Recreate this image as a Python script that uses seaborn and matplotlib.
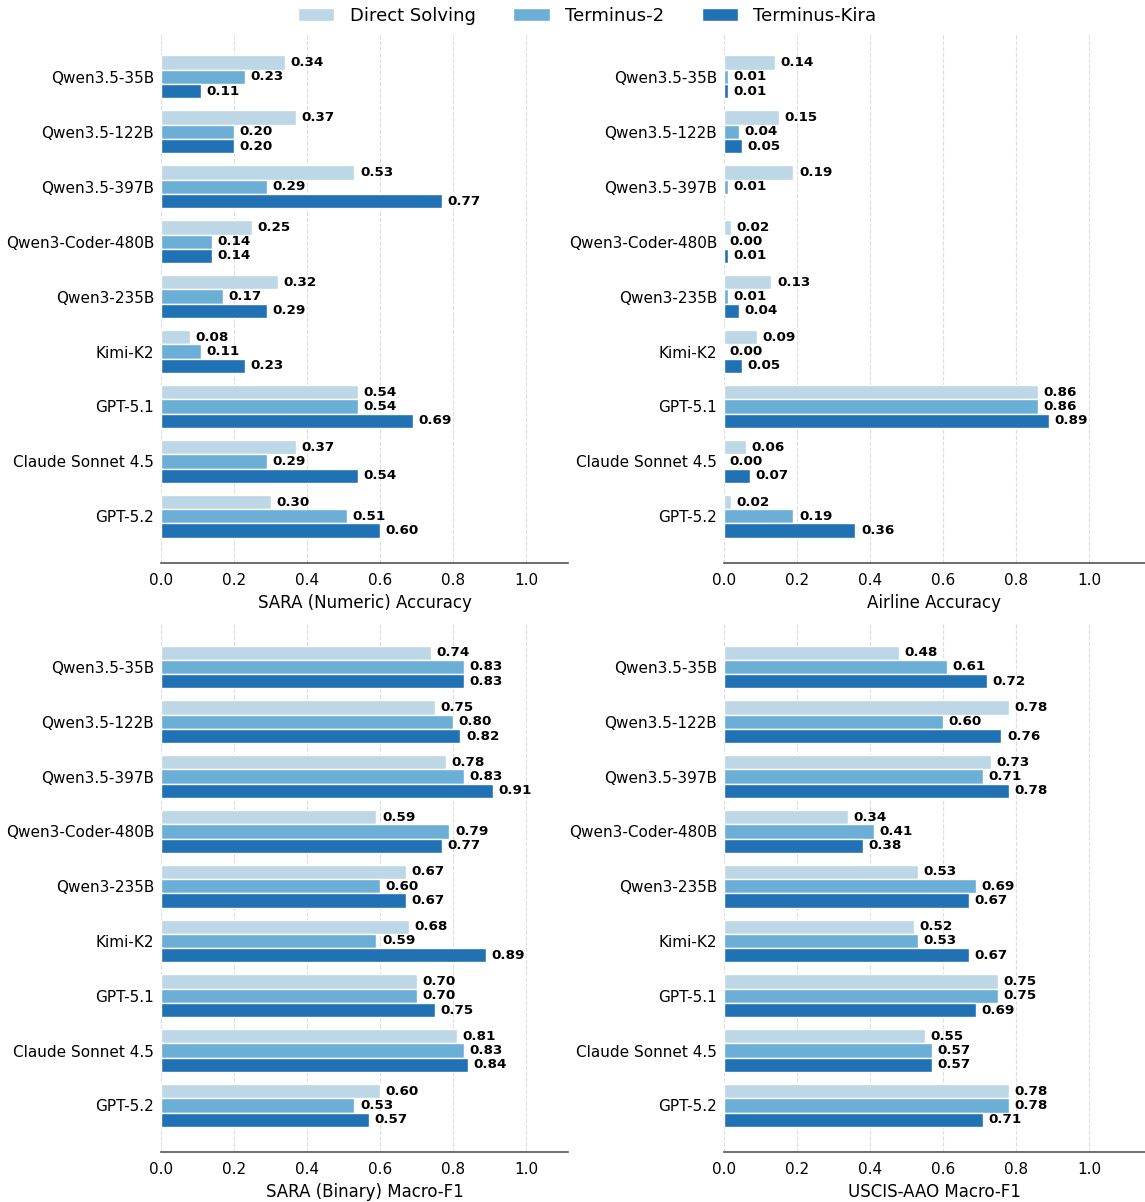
import numpy as np
import pandas as pd
import matplotlib
matplotlib.use('Agg')
import matplotlib.pyplot as plt
import seaborn as sns

# Models (top to bottom) and methods
models = ['Qwen3.5-35B', 'Qwen3.5-122B', 'Qwen3.5-397B', 'Qwen3-Coder-480B',
          'Qwen3-235B', 'Kimi-K2', 'GPT-5.1', 'Claude Sonnet 4.5', 'GPT-5.2']
methods = ['Direct Solving', 'Terminus-2', 'Terminus-Kira']
colors = ['#bdd7e7', '#6baed6', '#2171b5']

# SARA (Numeric) Accuracy
sara_num_direct = [0.34, 0.37, 0.53, 0.25, 0.32, 0.08, 0.54, 0.37, 0.30]
sara_num_t2 = [0.23, 0.20, 0.29, 0.14, 0.17, 0.11, 0.54, 0.29, 0.51]
sara_num_kira = [0.11, 0.20, 0.77, 0.14, 0.29, 0.23, 0.69, 0.54, 0.60]

# Airline Accuracy (Terminus-Kira missing for Qwen3.5-397B)
airline_direct = [0.14, 0.15, 0.19, 0.02, 0.13, 0.09, 0.86, 0.06, 0.02]
airline_t2 = [0.01, 0.04, 0.01, 0.00, 0.01, 0.00, 0.86, 0.00, 0.19]
airline_kira = [0.01, 0.05, np.nan, 0.01, 0.04, 0.05, 0.89, 0.07, 0.36]

# SARA (Binary) Macro-F1
sara_bin_direct = [0.74, 0.75, 0.78, 0.59, 0.67, 0.68, 0.70, 0.81, 0.60]
sara_bin_t2 = [0.83, 0.80, 0.83, 0.79, 0.60, 0.59, 0.70, 0.83, 0.53]
sara_bin_kira = [0.83, 0.82, 0.91, 0.77, 0.67, 0.89, 0.75, 0.84, 0.57]

# USCIS-AAO Macro-F1
uscis_direct = [0.48, 0.78, 0.73, 0.34, 0.53, 0.52, 0.75, 0.55, 0.78]
uscis_t2 = [0.61, 0.60, 0.71, 0.41, 0.69, 0.53, 0.75, 0.57, 0.78]
uscis_kira = [0.72, 0.76, 0.78, 0.38, 0.67, 0.67, 0.69, 0.57, 0.71]

panels = [
    ('SARA (Numeric) Accuracy', [sara_num_direct, sara_num_t2, sara_num_kira]),
    ('Airline Accuracy', [airline_direct, airline_t2, airline_kira]),
    ('SARA (Binary) Macro-F1', [sara_bin_direct, sara_bin_t2, sara_bin_kira]),
    ('USCIS-AAO Macro-F1', [uscis_direct, uscis_t2, uscis_kira]),
]

sns.set_style('white', rc={'text.color': 'black', 'axes.labelcolor': 'black',
                           'xtick.color': 'black', 'ytick.color': 'black'})
plt.rcParams['font.family'] = ['DejaVu Sans']

fig = plt.figure(figsize=(11.45, 12.02), dpi=100)

# axes rectangles [left, bottom, width, height] in figure fractions
rects = [
    [0.1406, 0.5316, 0.3555, 0.441],
    [0.6323, 0.5316, 0.3677, 0.441],
    [0.1406, 0.0416, 0.3555, 0.440],
    [0.6323, 0.0416, 0.3677, 0.440],
]
xmaxes = [1.115, 1.153, 1.115, 1.153]

for (title, series), rect, xmax in zip(panels, rects, xmaxes):
    ax = fig.add_axes(rect)
    rows = []
    for method, vals in zip(methods, series):
        for m, v in zip(models, vals):
            rows.append({'model': m, 'method': method, 'value': v})
    df = pd.DataFrame(rows)
    df['model'] = pd.Categorical(df['model'], categories=models, ordered=True)
    df['method'] = pd.Categorical(df['method'], categories=methods, ordered=True)

    sns.barplot(data=df, y='model', x='value', hue='method', orient='h',
                palette=colors, hue_order=methods, order=models, saturation=1,
                width=0.78, edgecolor='white', linewidth=1,
                errorbar=None, legend=False, ax=ax, zorder=3)

    for cont in ax.containers:
        labels = [f'{w:.2f}' if np.isfinite(w) else '' for w in cont.datavalues]
        ax.bar_label(cont, labels=labels, padding=4, fontsize=9.7,
                     fontweight='bold', color='black')

    ax.set_xlim(0, xmax)
    ax.set_ylim(8.85, -0.8)
    ax.set_xticks([0.0, 0.2, 0.4, 0.6, 0.8, 1.0])
    ax.set_xticklabels(['0.0', '0.2', '0.4', '0.6', '0.8', '1.0'])
    ax.set_xlabel(title, fontsize=12)
    ax.set_ylabel('')
    ax.tick_params(axis='y', length=0, pad=5, labelsize=11)
    ax.tick_params(axis='x', length=4, width=1, labelsize=11, color='#333333')
    ax.grid(axis='x', linestyle='--', color='#dddddd', linewidth=0.8, zorder=0)
    ax.set_axisbelow(True)
    for side in ['left', 'top', 'right']:
        ax.spines[side].set_visible(False)
    ax.spines['bottom'].set_color('#555555')
    ax.spines['bottom'].set_linewidth(1.2)

handles = [plt.Rectangle((0, 0), 1, 1, facecolor=c, edgecolor='white') for c in colors]
fig.legend(handles, methods, loc='center', bbox_to_anchor=(0.513, 0.987),
           ncol=3, frameon=False, fontsize=13, columnspacing=2.1,
           handlelength=2.0, handletextpad=0.85)

fig.savefig('out.png', dpi=100)
